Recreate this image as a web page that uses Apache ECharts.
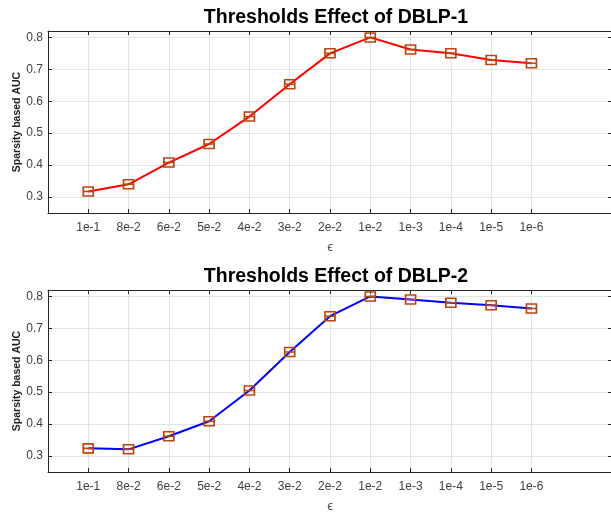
<!DOCTYPE html>
<html>
<head>
<meta charset="utf-8">
<script src="https://cdn.jsdelivr.net/npm/echarts@6/dist/echarts.min.js"></script>
<style>
  html, body { margin: 0; padding: 0; background: #fff; }
  #chart { width: 611px; height: 512px; }
</style>
</head>
<body>
<div id="chart"></div>
<script>
// Threshold values (epsilon) along the x axis
const thresholds = ['1e-1', '8e-2', '6e-2', '5e-2', '4e-2', '3e-2', '2e-2', '1e-2', '1e-3', '1e-4', '1e-5', '1e-6'];
// Sparsity based AUC for each dataset
const aucDblp1 = [0.317, 0.340, 0.408, 0.466, 0.552, 0.653, 0.750, 0.800, 0.762, 0.750, 0.729, 0.719];
const aucDblp2 = [0.324, 0.321, 0.362, 0.409, 0.505, 0.626, 0.738, 0.800, 0.790, 0.780, 0.772, 0.762];
const titles = ['Thresholds Effect of DBLP-1', 'Thresholds Effect of DBLP-2'];
const lineColors = ['#ff0000', '#0000ff'];

const FONT = '"Liberation Sans", Arial, sans-serif';
const AXIS = '#262626';
const GRIDC = '#e3e3e3';
const MARK = '#b8460e';

// category slots: an empty slot before the first threshold and two after the last
const slots = [' '].concat(thresholds, ['  ', '   ']);
const shownTick = (i) => i >= 1 && i <= thresholds.length;

const grids = [
  { left: 48, right: -1, top: 31, height: 182, containLabel: false, outerBoundsMode: 'none' },
  { left: 48, right: -1, top: 290, height: 182, containLabel: false, outerBoundsMode: 'none' }
];

const xAxes = [], yAxes = [], series = [], titleOpts = [];
[aucDblp1, aucDblp2].forEach((vals, g) => {
  titleOpts.push({
    text: titles[g], left: 331, textAlign: 'center',
    top: g === 0 ? 3 : 262,
    textStyle: { fontFamily: FONT, fontSize: 19.5, fontWeight: 'bold', color: '#000' }
  });
  xAxes.push({
    type: 'category', gridIndex: g, data: slots, boundaryGap: false,
    name: '\u03f5', nameLocation: 'middle', nameGap: 28, nameMoveOverlap: false,
    nameTextStyle: { fontFamily: FONT, fontSize: 13, color: '#555' },
    axisLine: { lineStyle: { color: AXIS, width: 1 } },
    axisTick: { inside: true, length: 4, interval: (i) => shownTick(i), lineStyle: { color: AXIS } },
    axisLabel: { interval: (i) => shownTick(i), margin: 9, fontFamily: FONT, fontSize: 12, color: '#404040' },
    splitLine: { show: true, interval: (i) => shownTick(i), lineStyle: { color: GRIDC } }
  });
  xAxes.push({
    type: 'category', gridIndex: g, data: slots, boundaryGap: false, position: 'top',
    axisLine: { lineStyle: { color: AXIS, width: 1 } },
    axisTick: { inside: true, length: 4, interval: (i) => shownTick(i), lineStyle: { color: AXIS } },
    axisLabel: { show: false }, splitLine: { show: false }
  });
  yAxes.push({
    type: 'value', gridIndex: g, min: 0.25, max: 0.82, splitNumber: 6,
    name: 'Sparsity based AUC', nameLocation: 'middle', nameGap: 25, nameMoveOverlap: false,
    nameTextStyle: { fontFamily: FONT, fontSize: 10.5, fontWeight: 'bold', color: '#222' },
    axisLine: { show: true, lineStyle: { color: AXIS, width: 1 } },
    axisTick: { show: true, inside: true, length: 4, lineStyle: { color: AXIS } },
    axisLabel: { showMinLabel: false, showMaxLabel: false, margin: 5, fontFamily: FONT, fontSize: 12, color: '#404040' },
    splitLine: { show: true, lineStyle: { color: GRIDC } }
  });
  yAxes.push({
    type: 'value', gridIndex: g, min: 0.25, max: 0.82, splitNumber: 6, position: 'right',
    axisLine: { show: true, lineStyle: { color: AXIS, width: 1 } },
    axisTick: { show: true, inside: true, length: 4, lineStyle: { color: AXIS } },
    axisLabel: { show: false }, splitLine: { show: false }
  });
  series.push({
    type: 'line', xAxisIndex: g * 2, yAxisIndex: g * 2,
    data: thresholds.map((t, i) => [t, vals[i]]),
    lineStyle: { color: lineColors[g], width: 2 },
    symbol: 'path://M0,0 H10 V10 H0 Z M0,5 H10',
    symbolSize: [10, 9],
    itemStyle: { color: 'rgba(0,0,0,0)', borderColor: MARK, borderWidth: 1.6 },
    showAllSymbol: true,
    silent: true, animation: false
  });
});

const chart = echarts.init(document.getElementById('chart'), null, { renderer: 'canvas' });
chart.setOption({
  animation: false,
  backgroundColor: '#fff',
  title: titleOpts,
  grid: grids,
  xAxis: xAxes,
  yAxis: yAxes,
  series: series
});
</script>
</body>
</html>
